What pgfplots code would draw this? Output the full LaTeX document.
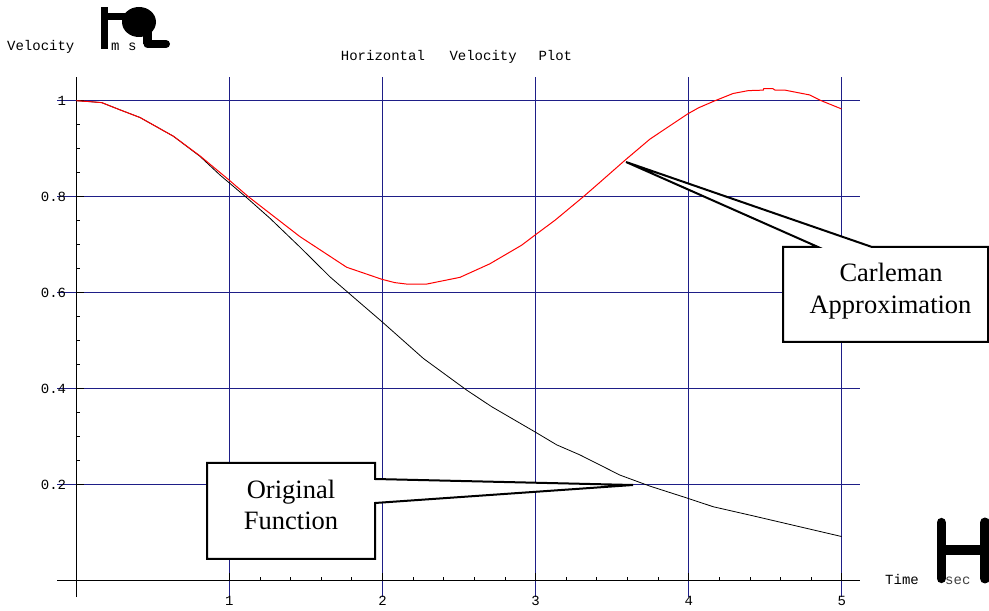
\documentclass[border=0pt]{standalone}
\usepackage{pgfplots}
\pgfplotsset{compat=1.18}
\usepackage{fontspec}
\setmainfont{Liberation Serif}
\newfontfamily\cour{Liberation Mono}
\definecolor{gridblue}{RGB}{30,30,135}

\begin{document}
\begin{tikzpicture}[x=1pt,y=1pt]
\path[use as bounding box] (0,0) rectangle (989,611);

\begin{axis}[
  at={(76.3pt,30.3pt)}, anchor=origin,
  x=153.1pt, y=480pt,
  xmin=-0.125, xmax=5.12, ymin=-0.034, ymax=1.05,
  enlargelimits=false,
  axis lines=middle,
  axis line style={-, black, line width=1pt},
  grid=major,
  major grid style={gridblue, line width=1pt},
  xtick={1,2,3,4,5}, xticklabels={1,2,3,4,5},
  ytick={0.2,0.4,0.6,0.8,1}, yticklabels={0.2,0.4,0.6,0.8,1},
  minor x tick num=4, minor y tick num=3,
  tick align=inside,
  major tick length=8pt, minor tick length=4pt,
  tick style={black, line width=0.8pt},
  /pgf/number format/assume math mode=true,
  tick label style={font=\cour\fontsize{14}{16}\selectfont, inner sep=0pt},
  xticklabel style={anchor=center, yshift=-20pt},
  yticklabel style={anchor=east, xshift=-10pt},
  clip=false,
]
% original function
\addplot[black, line width=0.8pt] coordinates {
  (0,1) (0.09,0.998) (0.166,0.996) (0.285,0.981) (0.416,0.965)
  (0.634,0.926) (0.808,0.884) (0.939,0.845) (1.113,0.798) (1.265,0.755)
  (1.461,0.695) (1.657,0.633) (1.82,0.588) (1.995,0.54) (2.267,0.463)
  (2.55,0.397) (2.713,0.3625) (2.996,0.31) (3.138,0.283) (3.29,0.262)
  (3.551,0.22) (3.747,0.197) (3.991,0.172) (4.161,0.154) (4.422,0.135)
  (4.999,0.092)
};
% Carleman approximation
\addplot[red, line width=1pt] coordinates {
  (0,1) (0.09,0.998) (0.166,0.996) (0.285,0.981) (0.416,0.965)
  (0.634,0.926) (0.808,0.885) (0.94,0.85) (0.993,0.836) (1.124,0.80)
  (1.46,0.717) (1.766,0.653) (1.995,0.628) (2.08,0.621) (2.158,0.618)
  (2.289,0.618) (2.506,0.632) (2.70,0.66) (2.909,0.699) (2.996,0.72)
  (3.127,0.751) (3.312,0.80) (3.42,0.830) (3.584,0.876) (3.747,0.92)
  (3.991,0.972) (4.063,0.985) (4.172,1.0) (4.29,1.015) (4.389,1.021)
  (4.487,1.022) (4.49,1.025) (4.55,1.025) (4.564,1.022) (4.629,1.022)
  (4.79,1.012) (4.858,1.001) (4.997,0.983)
};
\end{axis}

% title
\begin{scope}[every node/.style={inner sep=0pt, anchor=base west, font=\cour\fontsize{14}{16}\selectfont}]
\node at (340.7,550.3) {Horizontal};
\node at (449.3,550.3) {Velocity};
\node at (538.3,550.3) {Plot};
\end{scope}

% unit brackets as they were rendered
\fill (100.5,604) rectangle (107.5,562);
\fill (106,598) rectangle (128,591);
\fill (139,589) ellipse [x radius=17, y radius=15];
\draw[line width=9pt] (147.5,583) -- (147.5,567);
\draw[line width=8pt, line cap=round] (147.5,567) -- (166,567);
\draw[line width=9.3pt, line cap=round] (941.3,88.5) -- (941.3,32.5);
\fill (945,66) rectangle (980,56);
\draw[line width=10pt, line cap=round] (985,88.5) -- (985,32.5);

\begin{scope}[every node/.style={inner sep=0pt, anchor=base west, font=\cour\fontsize{14}{16}\selectfont}]
\node at (7,560.5) {Velocity};
\node at (111,560.5) {m s};
\node at (885,26) {Time};
\node at (945,26) {\textcolor{darkgray}{sec}};
\end{scope}

% callouts
\filldraw[fill=white, draw=black, line width=2pt, line join=miter]
  (783,364) -- (818,364) -- (626,449) -- (872,364) -- (988,364)
  -- (988,269) -- (783,269) -- cycle;
\filldraw[fill=white, draw=black, line width=2pt, line join=miter]
  (207,148) -- (375,148) -- (375,132) -- (633,126) -- (375,108)
  -- (375,52) -- (207,52) -- cycle;
\begin{scope}[every node/.style={inner sep=0pt, anchor=base, font=\fontsize{26.5}{30}\selectfont}]
\node at (891,329.3) {Carleman};
\node at (890.5,297.7) {Approximation};
\node at (291,112.7) {Original};
\node at (291,81) {Function};
\end{scope}
\end{tikzpicture}
\end{document}
